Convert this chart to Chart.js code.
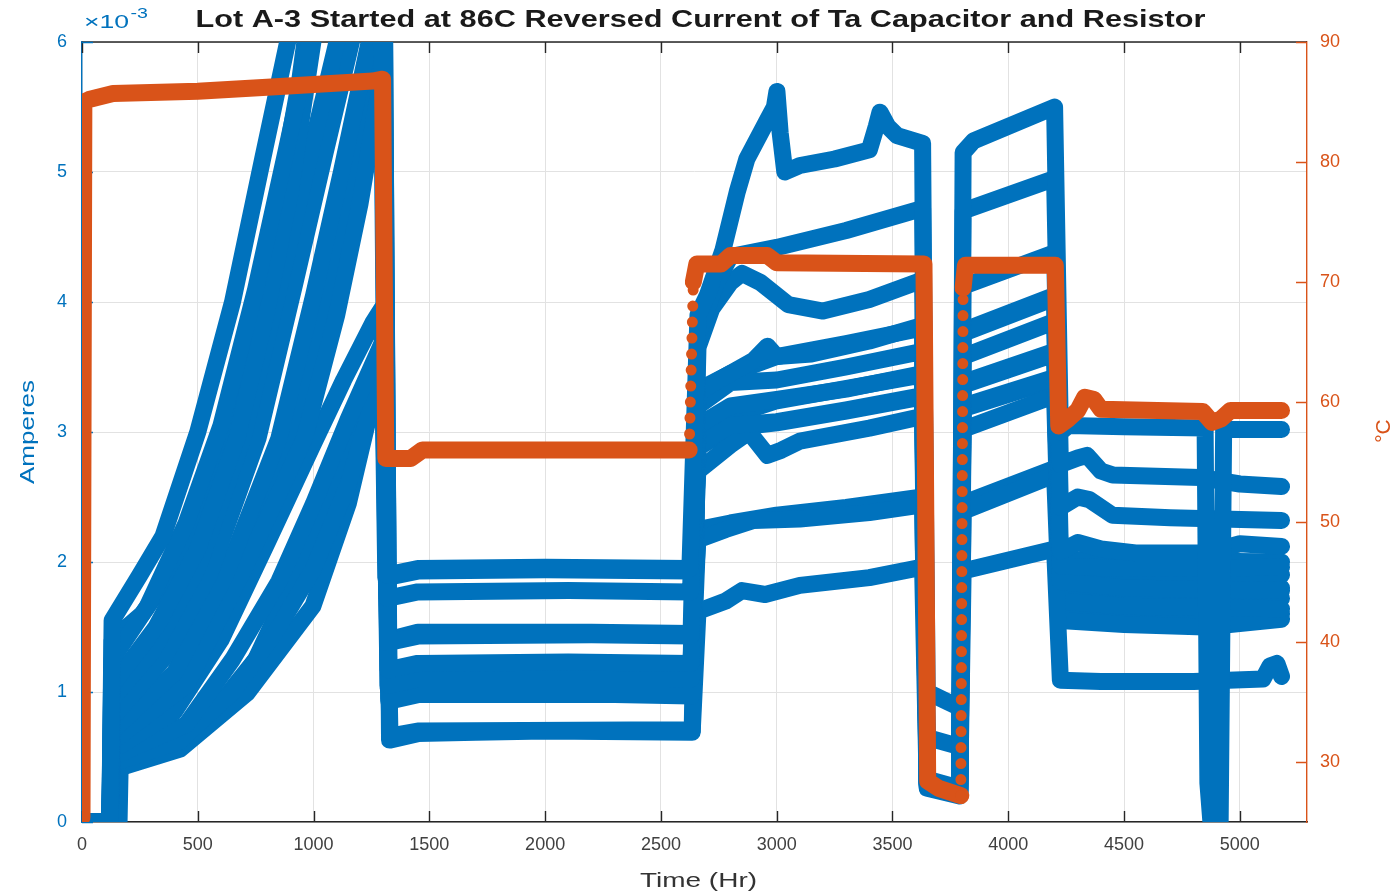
<!DOCTYPE html>
<html>
<head>
<meta charset="utf-8">
<script src="https://cdn.jsdelivr.net/npm/chart.js@4.4.1/dist/chart.umd.min.js"></script>
<style>
  html, body { margin: 0; padding: 0; background: #ffffff; }
  canvas { display: block; }
</style>
</head>
<body>
<canvas id="chart" width="1398" height="894"></canvas>
<script>
// ---- axis ticks ----
const timeTicks = [0, 500, 1000, 1500, 2000, 2500, 3000, 3500, 4000, 4500, 5000];
const currentTicks = [0, 1, 2, 3, 4, 5, 6];          // x 10^-3 A
const tempTicks = [30, 40, 50, 60, 70, 80, 90];      // deg C

// ---- oven temperature (right axis) ----
const tempHr = [0, 8, 30, 134, 500, 855, 1256, 1298, 1312, 1420, 1470, 2622, 2640, 2655, 2760, 2800, 2960, 3000, 3636, 3652, 3700, 3795, 3805, 3815, 4203, 4218, 4260, 4300, 4330, 4370, 4400, 4840, 4880, 4920, 4960, 5180];
const tempC  = [25.4, 85.0, 85.2, 85.7, 85.9, 86.3, 86.75, 86.9, 55.3, 55.3, 56.0, 56.0, 70.0, 71.5, 71.5, 72.2, 72.2, 71.6, 71.5, 28.4, 27.8, 27.2, 69.5, 71.4, 71.4, 58.0, 58.6, 59.3, 60.4, 60.2, 59.4, 59.2, 58.3, 58.6, 59.3, 59.3];

// ---- reverse current per part, mA (left axis) ----
const part01Hr = [0, 120, 130, 250, 350, 500, 650, 780, 870, 900, 950, 1290, 1315, 1450, 2000, 2625, 2660, 2700, 2768, 2830, 2871, 2960, 2990, 3001, 3015, 3035, 3100, 3250, 3400, 3430, 3446, 3480, 3520, 3630, 3650, 3790, 3805, 3850, 4200, 4225, 4260, 4500, 4850, 4862, 4875, 4915, 4930, 5180];
const part01mA = [0, 0, 1.55, 1.9, 2.2, 3.0, 4.0, 5.1, 5.85, 6.1, 6.6, 6.6, 1.9, 1.95, 1.96, 1.95, 3.9, 4.05, 4.4, 4.85, 5.1, 5.4, 5.5, 5.62, 5.3, 5.0, 5.05, 5.1, 5.17, 5.35, 5.46, 5.35, 5.28, 5.22, 0.3, 0.22, 5.15, 5.24, 5.5, 3.0, 3.05, 3.04, 3.03, 0.3, 0, 0, 3.02, 3.02];

const part02Hr = [0, 120, 130, 280, 450, 600, 750, 880, 990, 1040, 1295, 1318, 1450, 2100, 2628, 2660, 2740, 2800, 3000, 3300, 3630, 3650, 3790, 3805, 4200, 4225, 4300, 4340, 4400, 4450, 4830, 5000, 5180];
const part02mA = [0, 0, 1.25, 1.65, 2.3, 3.05, 4.1, 5.15, 6.05, 6.6, 6.6, 1.72, 1.77, 1.78, 1.77, 3.75, 4.15, 4.35, 4.42, 4.55, 4.72, 1.0, 0.88, 4.7, 4.95, 2.75, 2.8, 2.82, 2.7, 2.67, 2.65, 2.6, 2.58];

const part03Hr = [0, 120, 130, 320, 500, 669, 800, 900, 997, 1040, 1300, 1320, 1450, 2200, 2630, 2660, 2720, 2800, 2850, 2930, 3050, 3200, 3400, 3630, 3650, 3790, 3805, 4200, 4225, 4300, 4350, 4450, 4700, 5180];
const part03mA = [0, 0, 1.05, 1.5, 2.1, 2.95, 3.95, 4.85, 6.0, 6.5, 6.5, 1.38, 1.43, 1.44, 1.43, 3.65, 3.95, 4.15, 4.22, 4.15, 3.98, 3.93, 4.02, 4.17, 0.32, 0.25, 4.12, 4.38, 2.42, 2.5, 2.48, 2.36, 2.34, 2.32];

const part04Hr = [0, 120, 130, 300, 500, 695, 850, 980, 1101, 1140, 1300, 1322, 1450, 2100, 2630, 2660, 2750, 2900, 2960, 3000, 3150, 3400, 3630, 3650, 3790, 3805, 4200, 4225, 4300, 4400, 4550, 4850, 5000, 5180];
const part04mA = [0, 0, 0.95, 1.3, 1.95, 2.95, 4.1, 5.1, 6.0, 6.5, 6.5, 1.17, 1.22, 1.23, 1.22, 3.3, 3.4, 3.55, 3.66, 3.58, 3.6, 3.7, 3.82, 0.28, 0.21, 3.78, 4.05, 2.08, 2.15, 2.1, 2.07, 2.07, 2.14, 2.12];

const part05Hr = [0, 120, 130, 350, 550, 760, 920, 1050, 1170, 1210, 1305, 1325, 1450, 2200, 2632, 2660, 2800, 3000, 3300, 3630, 3650, 3790, 3805, 4200, 4225, 4500, 5180];
const part05mA = [0, 0, 0.8, 1.25, 1.9, 2.95, 4.15, 5.15, 6.05, 6.5, 6.5, 1.05, 1.1, 1.1, 1.1, 3.05, 3.2, 3.25, 3.33, 3.45, 0.3, 0.24, 3.38, 3.62, 1.97, 1.95, 1.96];

const part06Hr = [0, 120, 130, 400, 620, 850, 1000, 1120, 1240, 1270, 1305, 1325, 1450, 2300, 2632, 2660, 2800, 3000, 3300, 3630, 3650, 3790, 3805, 4200, 4225, 4500, 5180];
const part06mA = [0, 0, 0.7, 1.15, 1.9, 2.95, 4.05, 5.0, 6.0, 6.5, 6.5, 0.93, 0.98, 0.98, 0.97, 2.9, 3.05, 3.08, 3.17, 3.28, 0.65, 0.58, 3.2, 3.42, 1.85, 1.8, 1.78];

const part07Hr = [0, 120, 130, 450, 700, 960, 1100, 1200, 1290, 1305, 1328, 1450, 1700, 2000, 2635, 2660, 2780, 2850, 2950, 3100, 3400, 3630, 3650, 3790, 3805, 4200, 4225, 4400, 4800, 5100, 5130, 5160, 5180];
const part07mA = [0, 0, 0.62, 1.05, 1.95, 2.95, 3.9, 4.75, 5.7, 5.8, 0.63, 0.68, 0.69, 0.7, 0.69, 1.62, 1.7, 1.78, 1.75, 1.82, 1.88, 1.96, 0.26, 0.2, 1.93, 2.1, 1.09, 1.08, 1.08, 1.1, 1.2, 1.22, 1.12];

const part08Hr = [0, 120, 130, 400, 600, 800, 997, 1130, 1256, 1295, 1312, 1450, 2000, 2625, 2660, 2800, 2880, 2960, 3020, 3100, 3400, 3630, 3650, 3790, 3805, 4200, 4225, 4500, 5180];
const part08mA = [0, 0, 0.55, 0.85, 1.4, 2.15, 2.9, 3.4, 3.84, 3.95, 1.88, 1.93, 1.94, 1.93, 2.7, 2.9, 3.0, 2.82, 2.86, 2.93, 3.03, 3.12, 0.3, 0.23, 3.02, 3.28, 1.7, 1.66, 1.64];

const part09Hr = [0, 120, 130, 450, 650, 850, 1000, 1150, 1300, 1320, 1450, 2200, 2630, 2660, 2780, 2900, 3100, 3400, 3630, 3650, 3790, 3805, 4200, 4225, 4500, 4850, 5180];
const part09mA = [0, 0, 0.5, 0.75, 1.25, 1.85, 2.45, 3.1, 3.7, 1.4, 1.46, 1.46, 1.45, 2.17, 2.25, 2.32, 2.33, 2.38, 2.44, 0.33, 0.26, 2.39, 2.67, 1.55, 1.52, 1.5, 1.56];

const part10Hr = [0, 120, 130, 420, 650, 850, 1000, 1150, 1300, 1322, 1450, 2400, 2632, 2660, 2800, 3000, 3300, 3630, 3650, 3790, 3805, 4200, 4225, 5180];
const part10mA = [0, 0, 0.45, 0.62, 1.0, 1.5, 1.95, 2.6, 3.5, 1.03, 1.08, 1.08, 1.07, 2.88, 3.03, 3.07, 3.16, 3.27, 0.29, 0.22, 3.18, 3.4, 1.92, 1.9];

const part11Hr = [0, 120, 130, 423, 712, 997, 1150, 1256, 1300, 1330, 1450, 2600, 2635, 2660, 2800, 3000, 3300, 3630, 3650, 3790, 3805, 4200, 4225, 5180];
const part11mA = [0, 0, 0.4, 0.56, 0.99, 1.66, 2.45, 3.25, 3.45, 0.66, 0.7, 0.71, 0.7, 3.2, 3.38, 3.4, 3.5, 3.62, 0.27, 0.21, 3.58, 3.85, 1.75, 1.72];

const part12Hr = [0, 160, 165, 300, 500, 750, 1000, 1150, 1300, 1325, 1450, 2300, 2630, 2660, 3000, 3630, 3650, 3790, 3805, 4200, 4225, 5180];
const part12mA = [0, 0, 0.45, 0.5, 0.7, 1.25, 2.2, 2.95, 3.6, 1.15, 1.2, 1.2, 1.19, 3.04, 3.24, 3.44, 0.31, 0.24, 3.36, 3.6, 1.62, 1.6];

const part13Hr = [0, 120, 130, 260, 420, 560, 700, 830, 940, 1000, 1292, 1322, 1450, 2300, 2632, 2660, 2800, 3000, 3300, 3630, 3650, 3790, 3805, 4200, 4225, 5180];
const part13mA = [0, 0, 1.4, 1.6, 2.0, 2.6, 3.5, 4.6, 5.7, 6.5, 6.5, 1.05, 1.1, 1.09, 1.09, 3.32, 3.45, 3.58, 3.68, 3.8, 0.29, 0.23, 3.76, 4.03, 1.82, 1.8];

const part14Hr = [0, 120, 130, 300, 480, 640, 800, 950, 1100, 1220, 1300, 1325, 1450, 2300, 2632, 2660, 2800, 3000, 3300, 3630, 3650, 3790, 3805, 4200, 4225, 5180];
const part14mA = [0, 0, 0.6, 0.8, 1.2, 1.75, 2.45, 3.3, 4.3, 5.3, 5.95, 0.95, 1.0, 1.0, 0.99, 2.25, 2.3, 2.36, 2.42, 2.5, 0.3, 0.24, 2.45, 2.72, 2.02, 2.0];

const parts = [
  [part01Hr, part01mA], [part02Hr, part02mA], [part03Hr, part03mA], [part04Hr, part04mA],
  [part05Hr, part05mA], [part06Hr, part06mA], [part07Hr, part07mA], [part08Hr, part08mA],
  [part09Hr, part09mA], [part10Hr, part10mA], [part11Hr, part11mA], [part12Hr, part12mA],
  [part13Hr, part13mA], [part14Hr, part14mA]
];

// ---- styling ----
const BLUE = '#0072BD';
const ORANGE = '#D95319';
const AXIS = '#262626';
const GRID = '#e2e2e2';
const FONT = '"Liberation Sans", Arial, Helvetica, sans-serif';

const toPoints = (xs, ys) => xs.map((x, i) => ({ x, y: ys[i] }));

const partSets = parts.map(([hr, mA], i) => ({
  label: 'Part ' + (i + 1),
  data: toPoints(hr, mA),
  yAxisID: 'yA',
  showLine: true,
  borderColor: BLUE,
  backgroundColor: BLUE,
  borderWidth: 17,
  borderJoinStyle: 'round',
  borderCapStyle: 'round',
  pointRadius: 0,
  order: 1
}));

// fast heat-up ramps were logged sparsely: show them as dots
const sparseRamp = ctx => ctx.p0.parsed.x > 1000 && (ctx.p1.parsed.y - ctx.p0.parsed.y) > 8;

const tempSet = {
  label: 'Temperature',
  data: toPoints(tempHr, tempC),
  yAxisID: 'yT',
  showLine: true,
  borderColor: ORANGE,
  backgroundColor: ORANGE,
  borderWidth: 17,
  borderJoinStyle: 'round',
  borderCapStyle: 'round',
  pointRadius: 0,
  order: 0,
  segment: {
    borderDash: ctx => sparseRamp(ctx) ? [0, 16] : undefined,
    borderWidth: ctx => sparseRamp(ctx) ? 11 : undefined
  }
};

// text helper: draws a string squeezed/stretched to a given length
function fitText(ctx, text, x, y, font, color, length, angle) {
  ctx.save();
  ctx.font = font;
  ctx.fillStyle = color;
  ctx.textAlign = 'center';
  ctx.textBaseline = 'middle';
  const w = ctx.measureText(text).width;
  ctx.translate(x, y);
  if (angle) ctx.rotate(angle);
  ctx.scale(length ? length / w : 1, 1);
  ctx.fillText(text, 0, 0);
  ctx.restore();
}

const axesFrame = {
  id: 'axesFrame',
  beforeDatasetsDraw(chart) {
    const { ctx, chartArea: a, scales } = chart;
    const len = 11;
    ctx.save();
    ctx.lineWidth = 1.4;
    // top edge of the box
    ctx.strokeStyle = AXIS;
    ctx.beginPath();
    ctx.moveTo(a.left, a.top);
    ctx.lineTo(a.right, a.top);
    ctx.stroke();
    // inward ticks on bottom and top
    ctx.beginPath();
    for (const t of scales.x.ticks) {
      const px = Math.round(scales.x.getPixelForValue(t.value)) + 0.5;
      ctx.moveTo(px, a.bottom); ctx.lineTo(px, a.bottom - len);
      ctx.moveTo(px, a.top); ctx.lineTo(px, a.top + len);
    }
    ctx.stroke();
    // inward ticks on the current axis
    ctx.strokeStyle = BLUE;
    ctx.beginPath();
    for (const t of scales.yA.ticks) {
      const py = Math.round(scales.yA.getPixelForValue(t.value)) + 0.5;
      ctx.moveTo(a.left, py); ctx.lineTo(a.left + len, py);
    }
    ctx.stroke();
    // inward ticks on the temperature axis
    ctx.strokeStyle = ORANGE;
    ctx.beginPath();
    for (const t of scales.yT.ticks) {
      const py = Math.round(scales.yT.getPixelForValue(t.value)) + 0.5;
      ctx.moveTo(a.right, py); ctx.lineTo(a.right - len, py);
    }
    ctx.stroke();
    ctx.restore();
  },
  afterDraw(chart) {
    const { ctx, chartArea: a } = chart;
    const midX = (a.left + a.right) / 2;
    // title
    fitText(ctx, 'Lot A-3 Started at 86C Reversed Current of Ta Capacitor and Resistor',
      midX + 6, 20, 'bold 24px ' + FONT, '#1a1a1a', 1010, 0);
    // axis exponent
    ctx.save();
    ctx.fillStyle = BLUE;
    ctx.textBaseline = 'alphabetic';
    ctx.textAlign = 'left';
    ctx.translate(a.left + 2, 28);
    ctx.scale(1.4, 1);
    ctx.font = '19px ' + FONT;
    ctx.fillText('\u00d710', 0, 0);
    const w = ctx.measureText('\u00d710').width;
    ctx.font = '14px ' + FONT;
    ctx.fillText('-3', w + 1, -10);
    ctx.restore();
    // axis titles
    fitText(ctx, 'Time (Hr)', midX + 4, 881, '21px ' + FONT, '#333333', 117, 0);
    fitText(ctx, 'Amperes', 28, (a.top + a.bottom) / 2, '21px ' + FONT, BLUE, 104, -Math.PI / 2);
    fitText(ctx, '\u00b0C', 1384, (a.top + a.bottom) / 2 - 1, '21px ' + FONT, ORANGE, 0, -Math.PI / 2);
  }
};

const fixedTicks = list => scale => { scale.ticks = list.map(v => ({ value: v })); };
const plainLabel = v => String(v);

new Chart(document.getElementById('chart'), {
  type: 'scatter',
  data: { datasets: [tempSet, ...partSets] },
  options: {
    responsive: false,
    animation: false,
    devicePixelRatio: 1,
    events: [],
    layout: { padding: { top: 42, left: 0, right: 0, bottom: 0 } },
    plugins: {
      legend: { display: false },
      title: { display: false },
      tooltip: { enabled: false }
    },
    scales: {
      x: {
        type: 'linear',
        position: 'bottom',
        min: 0,
        max: 5290,
        afterBuildTicks: fixedTicks(timeTicks),
        afterFit: s => { s.height = 72; },
        grid: { color: GRID, lineWidth: 1, drawTicks: false },
        border: { color: AXIS, width: 1.4 },
        ticks: { color: '#404040', font: { family: FONT, size: 18 }, padding: 12, maxRotation: 0, callback: plainLabel }
      },
      yA: {
        type: 'linear',
        position: 'left',
        min: 0,
        max: 6,
        afterBuildTicks: fixedTicks(currentTicks),
        afterFit: s => { s.width = 82; },
        grid: { color: GRID, lineWidth: 1, drawTicks: false },
        border: { color: BLUE, width: 1.4 },
        ticks: { color: BLUE, font: { family: FONT, size: 18 }, padding: 15, callback: plainLabel }
      },
      yT: {
        type: 'linear',
        position: 'right',
        min: 25,
        max: 90,
        afterBuildTicks: fixedTicks(tempTicks),
        afterFit: s => { s.width = 91; },
        grid: { display: false, drawTicks: false },
        border: { color: ORANGE, width: 1.4 },
        ticks: { color: ORANGE, font: { family: FONT, size: 18 }, padding: 13, callback: plainLabel }
      }
    }
  },
  plugins: [axesFrame]
});
</script>
</body>
</html>
